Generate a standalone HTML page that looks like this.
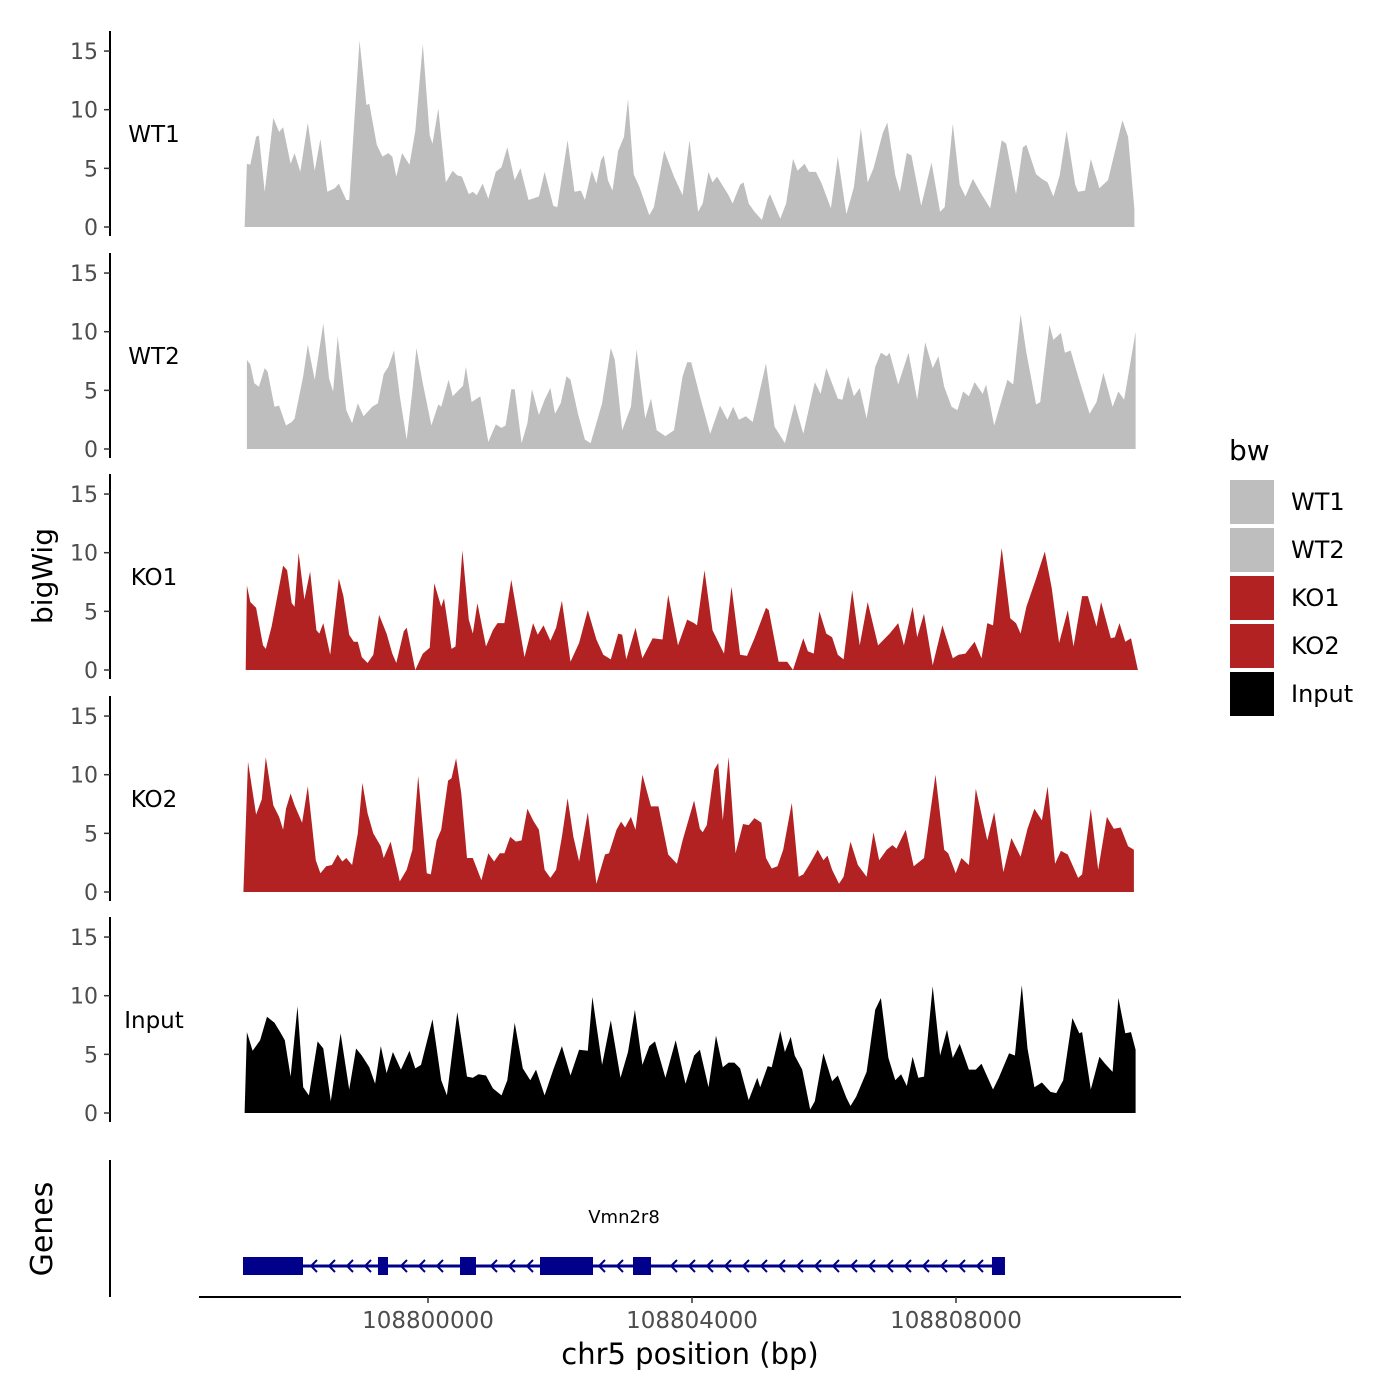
<!DOCTYPE html>
<html><head><meta charset="utf-8"><style>
html,body{margin:0;padding:0;background:#fff;}
svg{display:block;font-family:"DejaVu Sans","Liberation Sans",sans-serif;}
</style></head><body>
<svg id="chart" width="1400" height="1400" viewBox="0 0 1400 1400"></svg>
<script>
// ---- data (positions in genomic bins of BIN_BP, values = signal) ----
const REGION_START = 108797151;
const BIN_BP = 8.71;
const trackNames = ["WT1","WT2","KO1","KO2","Input"];
const trackColors = ["#bebebe","#bebebe","#b22222","#b22222","#000000"];
const yTicks = [0,5,10,15];
const xTicks = [108800000,108804000,108808000];

const wt1Pos = [8,12,18,28,33,43,58,68,75,88,95,105,118,130,140,152,165,172,185,190,208,220,225,238,248,258,265,272,282,295,305,318,330,335,345,358,370,378,386,398,405,412,422,432,445,455,465,478,488,502,520,530,545,552,570,582,593,600,612,620,628,633,640,648,658,668,675,685,695,712,720,738,755,770,782,797,805,815,822,830,850,857,870,876,885,895,908,918,922,940,950,962,970,982,990,1002,1012,1028,1040,1055,1068,1080,1092,1102,1118,1126,1140,1148,1160,1168,1185,1203,1218,1226,1240,1252,1262,1275,1290,1305,1325,1333,1350,1362,1368,1385,1395,1405,1415,1426,1438,1453,1458,1470,1480,1495,1510,1535,1545,1556];
const wt1Val = [0,5.4,5.3,7.7,7.8,3.0,9.3,8.1,8.5,5.4,6.3,4.7,8.9,4.8,7.5,3.0,3.3,3.7,2.3,2.3,15.9,10.4,10.5,7.0,6.0,6.3,6.0,4.3,6.3,5.3,8.2,15.6,7.8,7.1,10.1,3.8,4.8,4.4,4.3,2.8,3.0,2.7,3.7,2.4,4.7,5.1,6.8,4.0,5.0,2.3,2.6,4.7,1.8,1.7,7.4,3.0,3.1,2.3,4.8,3.7,5.7,6.1,4.0,3.1,6.5,7.7,10.9,4.5,3.4,1.0,1.7,6.5,4.3,2.7,7.4,1.3,2.0,4.7,3.8,4.3,2.7,2.0,3.6,3.8,2.0,1.3,0.6,2.4,2.8,0.7,2.0,5.8,4.8,5.4,4.7,4.7,3.7,1.6,6.0,1.1,3.4,8.4,3.8,5.0,8.0,8.9,4.4,3.0,6.3,6.1,1.8,5.5,1.3,1.7,8.8,3.6,2.6,4.1,2.8,1.6,7.4,7.1,2.8,6.8,7.0,4.5,4.1,3.8,2.6,4.4,8.2,3.6,3.0,3.1,5.8,3.3,4.0,9.1,7.7,1.5];

const wt2Pos = [12,18,25,33,43,48,60,68,80,90,95,110,118,130,145,155,162,170,185,195,205,215,230,240,250,258,268,278,290,300,307,318,333,345,350,363,370,388,393,403,418,432,445,455,462,472,478,490,500,508,520,530,540,548,558,568,575,588,600,610,630,645,652,665,680,690,705,715,725,740,755,770,778,785,800,818,835,848,858,868,880,892,915,930,948,965,980,1000,1010,1020,1040,1048,1058,1068,1078,1090,1105,1115,1125,1130,1145,1163,1178,1192,1205,1215,1225,1238,1248,1258,1268,1278,1292,1298,1312,1335,1345,1358,1368,1385,1392,1408,1415,1428,1435,1445,1458,1478,1490,1502,1518,1528,1538,1558];
const wt2Val = [7.6,7.2,5.6,5.3,6.9,6.6,3.6,3.7,2.0,2.3,2.6,6.2,8.9,5.9,10.7,6.0,4.9,9.6,3.3,2.2,3.9,2.8,3.6,3.9,6.4,7.0,8.4,4.5,0.8,5.0,8.6,5.6,2.0,3.8,3.6,5.9,4.5,5.4,7.0,4.0,4.5,0.6,2.1,1.8,2.0,5.1,5.1,0.5,2.2,5.1,2.9,4.2,5.2,3.0,3.9,6.2,5.9,3.0,0.8,0.5,3.9,8.6,7.6,1.6,3.6,8.5,2.6,4.3,1.6,1.1,1.6,6.2,7.4,7.4,4.5,1.3,3.7,2.5,3.6,2.5,2.8,2.3,7.3,1.9,0.5,3.9,1.3,5.7,4.7,6.9,4.3,4.2,6.2,4.5,5.2,2.6,7.0,8.2,7.9,8.2,5.5,8.2,4.2,9.1,6.9,7.9,5.3,3.6,3.3,4.9,4.5,5.7,4.7,5.5,2.0,5.9,5.5,11.5,8.2,3.8,4.0,10.6,9.3,9.9,8.2,8.4,6.2,3.0,4.0,6.5,3.6,4.9,4.2,10.0];

const ko1Pos = [10,12,18,28,40,45,55,75,82,90,95,102,112,122,133,138,145,157,172,180,190,198,205,212,222,232,242,255,265,272,285,290,305,318,330,338,350,355,368,375,387,398,405,413,428,440,448,460,472,495,510,518,528,540,550,560,575,590,605,620,632,645,658,665,672,688,700,718,735,745,762,778,790,795,808,822,832,842,855,870,882,895,915,920,937,952,962,980,988,998,1008,1020,1030,1040,1050,1065,1078,1092,1110,1130,1145,1155,1170,1178,1190,1205,1222,1240,1250,1262,1278,1290,1300,1310,1325,1340,1350,1358,1368,1385,1400,1412,1425,1440,1450,1465,1475,1490,1498,1515,1522,1530,1540,1550,1562];
const ko1Val = [0,7.2,5.8,5.3,2.1,1.8,3.7,8.9,8.5,5.7,5.4,10.0,6.0,8.4,3.4,3.1,4.0,1.3,7.8,6.3,3.0,2.4,2.4,1.1,0.6,1.3,4.7,3.1,1.4,0.6,3.3,3.6,0,1.4,1.9,7.4,5.4,6.1,1.8,2.0,10.2,4.3,3.1,5.7,2.0,3.4,4.0,4.0,7.7,1.1,4.0,3.0,3.8,2.5,3.6,5.9,0.7,2.3,5.1,2.6,1.3,0.9,3.1,3.0,0.9,3.6,1.0,2.7,2.6,6.4,2.1,4.3,4.0,3.8,8.5,3.4,2.4,1.4,7.1,1.3,1.2,2.7,5.3,5.1,0.7,0.7,0,2.7,1.6,1.4,5.0,3.1,2.8,1.3,0.9,6.8,2.1,5.8,2.1,3.1,4.0,2.1,5.4,2.8,4.8,0.4,3.8,1.0,1.3,1.4,2.4,1.0,4.0,3.8,10.4,4.4,4.0,3.1,5.4,7.8,10.1,7.0,2.3,5.1,2.0,6.3,6.3,3.7,5.8,2.7,2.8,4.0,2.4,2.7,0];

const ko2Pos = [6,14,28,38,45,58,68,75,80,88,95,108,118,132,140,150,160,170,178,185,195,205,213,222,232,245,250,262,278,290,300,310,325,332,342,350,362,368,376,385,395,405,420,432,442,452,460,470,480,490,500,510,520,530,540,550,560,570,580,590,605,620,635,642,655,663,670,680,688,700,715,728,745,760,770,790,800,805,812,825,832,840,850,862,875,885,895,907,915,925,935,945,960,972,980,990,1005,1015,1022,1030,1042,1050,1062,1075,1090,1102,1112,1125,1135,1142,1158,1172,1190,1210,1225,1232,1245,1255,1268,1280,1300,1312,1328,1342,1358,1370,1382,1395,1405,1418,1428,1440,1458,1465,1480,1493,1508,1520,1532,1545,1555];
const ko2Val = [0,11.1,6.6,7.9,11.5,7.4,6.4,5.3,7.1,8.4,7.4,5.9,9.0,2.7,1.6,2.2,2.3,3.2,2.6,2.9,2.3,5.0,9.3,6.7,5.0,3.9,2.9,4.3,0.9,1.9,3.6,9.9,1.6,1.5,4.4,5.3,9.5,9.7,11.4,8.4,2.9,2.9,1.0,3.3,2.6,3.3,3.3,4.7,4.3,4.4,7.1,6.1,5.3,1.9,1.2,1.9,4.7,8.0,4.7,2.6,6.8,0.7,3.2,3.3,5.3,6.0,5.5,6.4,5.3,10.0,7.3,7.3,3.2,2.4,4.4,7.8,5.4,5.1,5.7,10.4,11.0,6.1,11.5,3.3,5.8,5.7,6.3,5.9,2.9,2.0,2.2,3.6,7.6,1.3,1.5,2.3,3.6,2.7,3.1,1.9,0.7,1.3,4.3,2.3,1.3,5.1,2.7,3.6,4.0,3.7,5.3,2.2,2.9,10.0,3.6,3.3,1.6,2.9,2.3,8.8,4.4,6.8,1.7,4.6,3.0,5.4,7.1,6.1,9.0,2.4,3.5,3.2,1.2,1.5,7.1,1.9,6.4,5.4,5.5,3.9,3.6];

const inpPos = [8,12,22,35,47,60,70,78,88,100,110,120,135,145,158,175,190,202,212,225,235,245,255,266,280,295,305,315,335,350,360,378,395,405,415,428,440,455,465,478,492,505,515,530,545,560,575,590,605,613,630,645,662,675,687,700,712,722,740,758,775,790,800,815,828,840,850,860,870,885,900,905,918,925,940,948,958,965,978,992,1000,1015,1030,1040,1055,1062,1072,1090,1105,1115,1128,1140,1150,1160,1170,1180,1190,1205,1218,1230,1240,1252,1268,1280,1290,1310,1320,1338,1348,1360,1370,1382,1395,1410,1420,1432,1448,1460,1465,1480,1495,1505,1518,1528,1540,1550,1558];
const inpVal = [0,6.9,5.3,6.2,8.2,7.7,6.9,6.2,3.1,9.1,2.2,1.5,6.1,5.5,1.0,6.8,2.0,5.5,4.9,3.9,2.5,5.7,3.4,5.2,3.7,5.3,3.8,4.1,8.0,2.8,1.5,8.6,3.1,3.0,3.3,3.2,2.1,1.5,2.8,7.7,3.8,2.8,3.7,1.5,3.7,5.7,3.2,5.4,5.3,9.9,4.1,7.9,3.0,5.2,8.8,4.1,5.7,6.1,3.0,6.2,2.5,4.9,5.4,2.2,6.6,3.9,4.3,4.3,3.8,1.1,3.0,2.2,4.0,3.9,7.0,5.2,6.5,4.9,3.7,0.3,1.0,5.1,2.7,3.2,1.3,0.6,1.4,3.5,8.8,9.8,4.7,2.8,3.3,2.3,4.8,3.0,3.1,10.8,4.9,7.1,4.7,5.9,3.7,3.7,4.2,2.0,3.0,5.1,4.9,10.9,5.5,2.2,2.6,1.8,1.7,2.8,8.1,6.8,6.9,2.0,4.8,4.2,3.5,9.8,6.8,6.9,5.4];

const trackPos = [wt1Pos,wt2Pos,ko1Pos,ko2Pos,inpPos];
const trackVal = [wt1Val,wt2Val,ko1Val,ko2Val,inpVal];

const exonStarts = [108797197,108799242,108800485,108801697,108803106,108808545];
const exonEnds   = [108798106,108799394,108800727,108802500,108803379,108808742];
const geneName = "Vmn2r8";
const geneStart = 108797197, geneEnd = 108808742;

// ---- scales ----
const NS = "http://www.w3.org/2000/svg";
const svg = document.getElementById('chart');
function xScale(bp){ return 428 + (bp - 108800000) * 0.066; }
function binToBp(b){ return REGION_START + b * BIN_BP; }
const panelBase = [227,449,670,892,1113];
const PX_PER_UNIT = 11.73;
function yScale(i,v){ return panelBase[i] - v * PX_PER_UNIT; }
function mk(tag, attrs, parent){
  const e = document.createElementNS(NS, tag);
  for (const k in attrs) e.setAttribute(k, attrs[k]);
  (parent||svg).appendChild(e);
  return e;
}

// ---- tracks ----
for (let i=0;i<trackNames.length;i++){
  const g = mk('g',{});
  
  
  const ax = mk('line',{x1:110,x2:110,y1:panelBase[i]-196,y2:panelBase[i]+9,stroke:'#000','stroke-width':2},g);
  
  
  for (const t of yTicks){
    const y = yScale(i,t);
    const tk = mk('line',{x1:104,x2:110,y1:y,y2:y,stroke:'#333','stroke-width':1.5},g);
    
    
    const tl = mk('text',{x:98,y:y+8,'text-anchor':'end','font-size':22,fill:'#4d4d4d'},g);
    tl.textContent = t;
    
    
  }
  const lbl = mk('text',{x:154,y:panelBase[i]-85,'text-anchor':'middle','font-size':23,fill:'#000'},g);
  lbl.textContent = trackNames[i];
  
  
  const P = trackPos[i], V = trackVal[i];
  let d = 'M' + xScale(binToBp(P[0])).toFixed(1) + ',' + panelBase[i];
  for (let k=0;k<P.length;k++) d += 'L' + xScale(binToBp(P[k])).toFixed(1) + ',' + yScale(i,V[k]).toFixed(1);
  d += 'L' + xScale(binToBp(P[P.length-1])).toFixed(1) + ',' + panelBase[i] + 'Z';
  const area = mk('path',{d:d,fill:trackColors[i]},g);
  
  
}

// ---- titles ----
const yt = mk('text',{x:0,y:0,transform:'translate(52,576) rotate(-90)','text-anchor':'middle','font-size':28,fill:'#000'});
yt.textContent = 'bigWig';


const gt = mk('text',{x:0,y:0,transform:'translate(52,1229) rotate(-90)','text-anchor':'middle','font-size':30,fill:'#000'});
gt.textContent = 'Genes';



// ---- gene track ----
const ga = mk('line',{x1:110,x2:110,y1:1160,y2:1297,stroke:'#000','stroke-width':2});


const gg = mk('g',{});


const GY = 1266;
mk('line',{x1:xScale(geneStart),x2:xScale(geneEnd),y1:GY,y2:GY,stroke:'#00008b','stroke-width':3},gg);
for (let k=0;k<exonStarts.length;k++){
  const x0 = xScale(exonStarts[k]), x1 = xScale(exonEnds[k]);
  const ex = mk('rect',{x:x0,y:GY-9,width:x1-x0,height:18,fill:'#00008b'},gg);
  
  
}
for (let ax=xScale(geneStart)+70; ax<xScale(geneEnd)-8; ax+=18){
  let inEx=false;
  for (let k=0;k<exonStarts.length;k++){ if (ax>xScale(exonStarts[k])-6 && ax<xScale(exonEnds[k])+4) inEx=true; }
  if (inEx) continue;
  mk('path',{d:'M'+(ax+4)+','+(GY-6)+'L'+(ax-2)+','+GY+'L'+(ax+4)+','+(GY+6),fill:'none',stroke:'#00008b','stroke-width':2},gg);
}
const gn = mk('text',{x:624,y:1223,'text-anchor':'middle','font-size':18,fill:'#000'});
gn.textContent = geneName;



// ---- x axis ----
const xa = mk('line',{x1:199,x2:1181,y1:1297,y2:1297,stroke:'#000','stroke-width':2});


for (const t of xTicks){
  const x = xScale(t);
  const tk = mk('line',{x1:x,x2:x,y1:1297,y2:1303,stroke:'#333','stroke-width':1.5});
  
  
  const tl = mk('text',{x:x,y:1328,'text-anchor':'middle','font-size':23,fill:'#4d4d4d'});
  tl.textContent = t;
  
  
}
const xt = mk('text',{x:690,y:1364,'text-anchor':'middle','font-size':29,fill:'#000'});
xt.textContent = 'chr5 position (bp)';



// ---- legend ----
const lg = mk('g',{});


const lt = mk('text',{x:1229,y:460,'font-size':28,fill:'#000'},lg);
lt.textContent = 'bw';


for (let i=0;i<trackNames.length;i++){
  const y = 480 + i*48;
  const e = mk('g',{},lg);
  
  
  mk('rect',{x:1230,y:y,width:44,height:44,fill:trackColors[i]},e);
  const t = mk('text',{x:1291,y:y+30,'font-size':24,fill:'#000'},e);
  t.textContent = trackNames[i];
}
</script>
</body></html>
